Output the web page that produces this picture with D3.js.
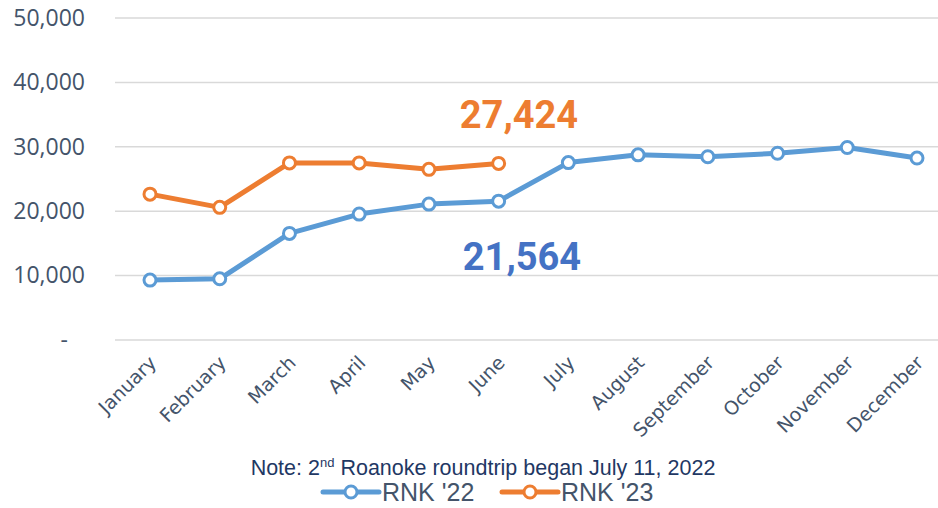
<!DOCTYPE html>
<html>
<head>
<meta charset="utf-8">
<script src="https://cdn.jsdelivr.net/npm/d3@7"></script>
<style>
  body { margin: 0; background: #fff; }
  svg { display: block; }
</style>
</head>
<body>
<svg id="chart" width="938" height="508"></svg>
<script>
const months = ['January', 'February', 'March', 'April', 'May', 'June',
  'July', 'August', 'September', 'October', 'November', 'December']
const rnk22 = [9300, 9500, 16550, 19550, 21100, 21564, 27550, 28750, 28450, 29000, 29900, 28250]
const rnk23 = [22650, 20600, 27500, 27500, 26500, 27424]
const yTicks = [0, 10000, 20000, 30000, 40000, 50000]

const width = 938
const height = 508
const margin = { top: 18, right: 0, bottom: 168, left: 115 }

const svg = d3.select('#chart')

const x = d3.scalePoint()
  .domain(months)
  .range([150, 917])

const y = d3.scaleLinear()
  .domain([0, 50000])
  .range([height - margin.bottom, margin.top])

const axisColor = '#44546a'

// gridlines
svg.append('g')
  .selectAll('line')
  .data(yTicks)
  .join('line')
  .attr('x1', margin.left)
  .attr('x2', width - margin.right)
  .attr('y1', d => y(d))
  .attr('y2', d => y(d))
  .attr('stroke', '#d9d9d9')
  .attr('stroke-width', 1.5)

// y axis
const yAxis = g => g
  .attr('transform', `translate(${margin.left},0)`)
  .call(d3.axisLeft(y).tickValues(yTicks).tickSize(0).tickPadding(30)
    .tickFormat(d => d === 0 ? '-' : d3.format(',')(d)))
  .call(g => g.select('.domain').remove())
  .call(g => g.selectAll('text')
    .attr('fill', axisColor)
    .style('font-family', '"Open Sans", sans-serif')
    .style('font-size', '23px'))
  .call(g => g.selectAll('.tick').filter(d => d === 0).select('text').attr('dx', -17))

svg.append('g').call(yAxis)

// x axis
const xAxis = g => g
  .attr('transform', `translate(0,${y(0)})`)
  .call(d3.axisBottom(x).tickSize(0).tickPadding(0))
  .call(g => g.select('.domain').remove())
  .call(g => g.selectAll('text')
    .attr('fill', axisColor)
    .style('font-family', '"DejaVu Sans", sans-serif')
    .style('font-size', '19px')
    .attr('text-anchor', 'end')
    .attr('dy', 0)
    .attr('transform', 'translate(7,24) rotate(-45)'))

svg.append('g').call(xAxis)

const series = [
  { key: "RNK '22", values: rnk22, color: '#5b9bd5' },
  { key: "RNK '23", values: rnk23, color: '#ed7d31' }
]

const line = d3.line()
  .x((d, i) => x(months[i]))
  .y(d => y(d))

series.forEach(s => {
  const g = svg.append('g')
  g.append('path')
    .datum(s.values)
    .attr('d', line)
    .attr('fill', 'none')
    .attr('stroke', s.color)
    .attr('stroke-width', 5)
    .attr('stroke-linejoin', 'round')
  g.selectAll('circle')
    .data(s.values)
    .join('circle')
    .attr('cx', (d, i) => x(months[i]))
    .attr('cy', d => y(d))
    .attr('r', 6)
    .attr('fill', '#fff')
    .attr('stroke', s.color)
    .attr('stroke-width', 3)
})

// callout labels
svg.append('text')
  .attr('x', 519)
  .attr('y', 128)
  .attr('text-anchor', 'middle')
  .attr('fill', '#ed7d31')
  .style('font-family', 'Roboto, sans-serif')
  .style('font-weight', 'bold')
  .style('font-size', '38px')
  .text(d3.format(',')(rnk23[5]))

svg.append('text')
  .attr('x', 522)
  .attr('y', 270)
  .attr('text-anchor', 'middle')
  .attr('fill', '#4472c4')
  .style('font-family', 'Roboto, sans-serif')
  .style('font-weight', 'bold')
  .style('font-size', '38px')
  .text(d3.format(',')(rnk22[5]))

// note
const note = svg.append('text')
  .attr('x', 483)
  .attr('y', 475)
  .attr('text-anchor', 'middle')
  .attr('fill', '#1f3864')
  .style('font-family', '"Liberation Sans", Arial, sans-serif')
  .style('font-size', '21.5px')
note.append('tspan').text('Note: 2')
note.append('tspan').attr('dy', -8).style('font-size', '13px').text('nd')
note.append('tspan').attr('dy', 8).text(' Roanoke roundtrip began July 11, 2022')

// legend
const legend = svg.append('g')
  .selectAll('g')
  .data(series)
  .join('g')
  .attr('transform', (d, i) => `translate(${323 + i * 179},492)`)

legend.append('line')
  .attr('x1', 0).attr('x2', 56)
  .attr('stroke', d => d.color)
  .attr('stroke-width', 5)
  .attr('stroke-linecap', 'round')
legend.append('circle')
  .attr('cx', 28).attr('r', 6)
  .attr('fill', '#fff')
  .attr('stroke', d => d.color)
  .attr('stroke-width', 3)
legend.append('text')
  .attr('x', 59)
  .attr('y', 9)
  .attr('fill', axisColor)
  .style('font-family', '"Liberation Sans", Arial, sans-serif')
  .style('font-size', '25px')
  .text(d => d.key)
</script>
</body>
</html>
